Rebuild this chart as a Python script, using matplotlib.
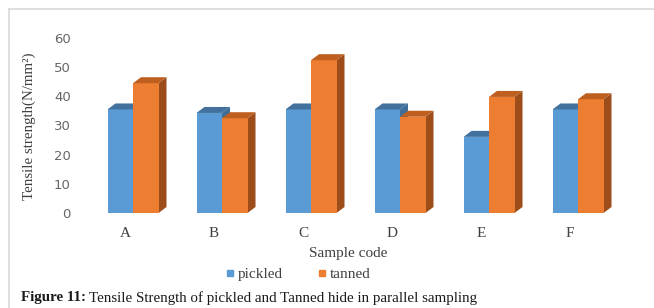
import matplotlib
matplotlib.use("Agg")
import matplotlib.pyplot as plt
from matplotlib.patches import Polygon
from matplotlib.lines import Line2D
import numpy as np

# data
samples = ['A', 'B', 'C', 'D', 'E', 'F']
pickled = [35.5, 34.3, 35.5, 35.5, 26.1, 35.5]
tanned = [44.5, 32.5, 52.4, 33.0, 39.8, 39.0]
yticks = [0, 10, 20, 30, 40, 50, 60]

W, H = 654, 308
fig = plt.figure(figsize=(W / 100, H / 100), dpi=100)
ax = fig.add_axes([80.5 / W, 95 / H, 560.7 / W, 175 / H])
ax.set_xlim(-0.5, 5.8)
ax.set_ylim(0, 60)

# pseudo 3d depth, in data units (approx 8px right, 6px up)
dx = 8 / 89
dy = 6 / 2.917
bw = 25.5 / 89
shift = 8 / 89

faces = {
    'pickled': ('#5B9BD5', '#41719C', '#3F6E99'),
    'tanned': ('#ED7D31', '#BE5F20', '#9C4D1A'),
}

x = np.arange(len(samples))
for vals, name, off in [(pickled, 'pickled', -bw / 2), (tanned, 'tanned', bw / 2)]:
    front, top, side = faces[name]
    bars = ax.bar(x + shift + off, vals, width=bw, color=front, zorder=3)
    for r in bars:
        x0, x1, h = r.get_x(), r.get_x() + r.get_width(), r.get_height()
        ax.add_patch(Polygon([(x0, h), (x1, h), (x1 + dx, h + dy), (x0 + dx, h + dy)],
                             closed=True, facecolor=top, edgecolor='none', zorder=3, clip_on=False))
        ax.add_patch(Polygon([(x1, 0), (x1 + dx, dy), (x1 + dx, h + dy), (x1, h)],
                             closed=True, facecolor=side, edgecolor='none', zorder=2, clip_on=False))

for s in ax.spines.values():
    s.set_visible(False)
ax.set_yticks(yticks)
ax.set_xticks(x)
ax.set_xticklabels(samples, family='Liberation Serif', fontsize=11, color='#404040')
ax.tick_params(axis='x', length=0, pad=10)
ax.tick_params(axis='y', length=0, pad=7, labelsize=9.5, labelcolor='#666666')
for t in ax.get_yticklabels():
    t.set_family('DejaVu Sans')

fig.text(348 / W, 1 - 253 / H, 'Sample code', family='Liberation Serif', fontsize=11,
         color='#404040', ha='center', va='center')
fig.text(29 / W, 1 - 126 / H, 'Tensile strength(N/mm²)', family='Liberation Serif', fontsize=10.8,
         color='#404040', ha='center', va='center', rotation=90)

handles = [Line2D([], [], marker='s', ls='', markersize=5, color=faces['pickled'][0]),
           Line2D([], [], marker='s', ls='', markersize=5, color=faces['tanned'][0])]
fig.legend(handles, ['pickled', 'tanned'], loc='center', bbox_to_anchor=(298 / W, 1 - 274 / H),
           ncol=2, frameon=False, handlelength=0.6, handletextpad=0.2, columnspacing=2.3,
           prop={'family': 'Liberation Serif', 'size': 11}, labelcolor='#404040')

# chart border (top and left only visible)
fig.add_artist(Line2D([8.5 / W, 1], [1 - 8.5 / H, 1 - 8.5 / H], color='#D9D9D9', lw=1.2))
fig.add_artist(Line2D([8.5 / W, 8.5 / W], [0, 1 - 8.5 / H], color='#D9D9D9', lw=1.2))

# caption
r = fig.canvas.get_renderer()
cap = fig.text(21 / W, 1 - 298 / H, 'Figure 11:', family='Liberation Serif', fontsize=10.8,
               weight='bold', va='center', color='#1a1a1a')
bb = cap.get_window_extent(renderer=r)
fig.text((bb.x1 + 3) / W, 1 - 298 / H, 'Tensile Strength of pickled and Tanned hide in parallel sampling',
         family='Liberation Serif', fontsize=10.8, va='center', color='#1a1a1a')

fig.savefig('out.png', dpi=100)
